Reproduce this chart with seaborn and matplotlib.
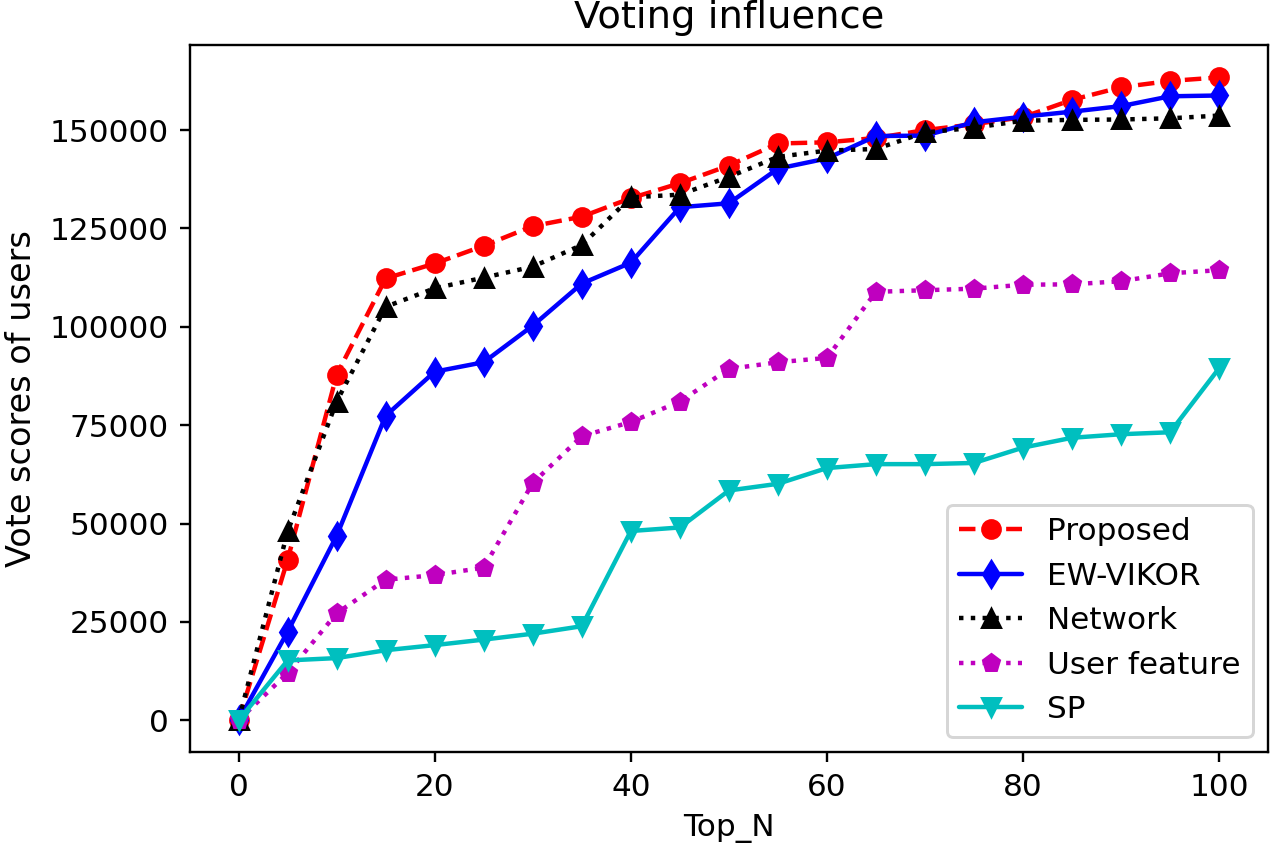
import numpy as np
import matplotlib
matplotlib.use("Agg")
import matplotlib.pyplot as plt
import seaborn as sns

# values
top_n = [0, 5, 10, 15, 20, 25, 30, 35, 40, 45, 50, 55, 60, 65, 70, 75, 80, 85, 90, 95, 100]

proposed = [0, 40800, 87800, 112300, 116100, 120600, 125600, 128000, 132700, 136500, 141000,
            146600, 146900, 148000, 150000, 151500, 153300, 157700, 160900, 162500, 163400]
ew_vikor = [0, 22500, 46900, 77400, 88600, 91000, 100300, 111000, 116300, 130400, 131400,
            140200, 142800, 148500, 148600, 152000, 153400, 154700, 156100, 158600, 158800]
network = [0, 48000, 81000, 105100, 109800, 112500, 115300, 120800, 132900, 133600, 138100,
           143200, 144800, 145200, 149400, 150600, 152400, 152600, 152700, 153000, 153700]
user_feature = [0, 12000, 27200, 35700, 36900, 38800, 60300, 72200, 75800, 81000, 89300,
                91000, 92100, 108900, 109300, 109700, 110700, 110800, 111600, 113600, 114400]
sp = [0, 15200, 15800, 17800, 19100, 20500, 22000, 23900, 48100, 49000, 58400,
      60100, 64100, 65100, 65100, 65400, 69300, 71800, 72700, 73200, 89500]

series = [
    ("Proposed", proposed, "r", "o", "--"),
    ("EW-VIKOR", ew_vikor, "b", "d", "-"),
    ("Network", network, "k", "^", ":"),
    ("User feature", user_feature, "m", "p", ":"),
    ("SP", sp, "c", "v", "-"),
]

sns.set_style("ticks", rc={"text.color": "black", "axes.labelcolor": "black",
                           "xtick.color": "black", "ytick.color": "black",
                           "axes.edgecolor": "black"})
plt.rcParams['font.family'] = ['DejaVu Sans']

fig, ax = plt.subplots(figsize=(6.0, 4.005), dpi=213.5)

for name, vals, col, mk, ls in series:
    sns.lineplot(x=top_n, y=vals, ax=ax, color=col, marker=mk, linestyle=ls,
                 markersize=6, markeredgecolor=col, markeredgewidth=1.0,
                 linewidth=1.5, label=name)

ax.set_title("Voting influence", fontsize=13)
ax.set_xlabel("Top_N", fontsize=10.5)
ax.set_ylabel("Vote scores of users", fontsize=11.3)
ax.set_xticks([0, 20, 40, 60, 80, 100])
ax.set_yticks([0, 25000, 50000, 75000, 100000, 125000, 150000])
ax.tick_params(labelsize=10.5)
for s in ax.spines.values():
    s.set_visible(True)
    s.set_linewidth(0.8)

ax.legend(loc="lower right", fontsize=10.5, frameon=True, fancybox=True, framealpha=0.8)

plt.subplots_adjust(left=0.148, right=0.99, top=0.947, bottom=0.12)
plt.savefig("out.png", dpi=213.5)
plt.close()
